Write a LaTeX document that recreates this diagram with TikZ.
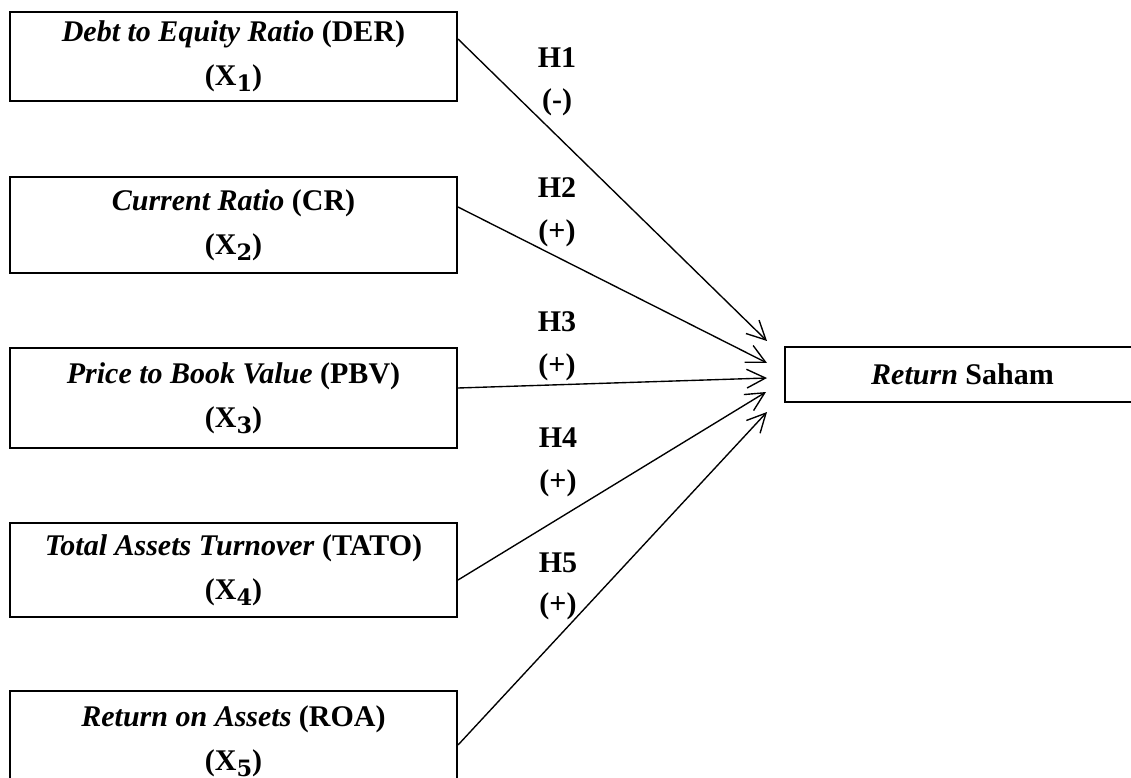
\documentclass[tikz,border=0pt]{standalone}
\usepackage{fontspec}
\setmainfont{Liberation Serif}
\newfontfamily\subfont{DejaVu Serif}
\usetikzlibrary{arrows.meta}
\newcommand{\xsub}[1]{X\raisebox{-0.45ex}{\fontsize{9}{9}\selectfont\subfont\bfseries #1}}
\begin{document}
\begin{tikzpicture}[x=0.4pt,y=-0.4pt,
  varbox/.style={draw,line width=0.8pt,inner sep=0pt,align=center,
    font=\fontsize{12}{17.6}\selectfont\bfseries,minimum width=178.8pt},
  hyp/.style={font=\fontsize{12}{14}\selectfont\bfseries,inner sep=0pt},
  link/.style={line width=0.55pt,-{Straight Barb[length=7.5pt,width=7.5pt,line width=0.55pt]}}]
\useasboundingbox (0,0) rectangle (1131,778);
\node[varbox,minimum height=35.6pt] (b1) at (233.5,56.5) {\textit{Debt to Equity Ratio} (DER)\\(\xsub{1})};
\node[varbox,minimum height=38.4pt] (b2) at (233.5,225) {\textit{Current Ratio} (CR)\\(\xsub{2})};
\node[varbox,minimum height=40pt] (b3) at (233.5,398) {\textit{Price to Book Value} (PBV)\\(\xsub{3})};
\node[varbox,minimum height=37.6pt] (b4) at (233.5,570) {\textit{Total Assets Turnover} (TATO)\\(\xsub{4})};
\node[varbox,minimum height=40pt] (b5) at (233.5,741) {\textit{Return on Assets} (ROA)\\(\xsub{5})};
\node[varbox,minimum width=142pt,minimum height=22pt] (y) at (962.5,374.5) {\textit{Return} Saham};
\coordinate (e1) at (767,341);
\coordinate (e2) at (767,363);
\coordinate (e3) at (767,378);
\coordinate (e4) at (766,392);
\coordinate (e5) at (767,412);
\draw[link] ([yshift=7pt]b1.east) -- (e1);
\draw[link] ([yshift=7.2pt]b2.east) -- (e2);
\draw[link] ([yshift=4pt]b3.east) -- (e3);
\draw[link] ([yshift=-4pt]b4.east) -- (e4);
\draw[link] ([yshift=-1.6pt]b5.east) -- (e5);
\node[hyp] (h1) at (557,58) {H1};
\node[hyp] (s1) at (557,102) {(-)};
\node[hyp] (h2) at (557,188) {H2};
\node[hyp] (s2) at (557,233) {(+)};
\node[hyp] (h3) at (557,322) {H3};
\node[hyp] (s3) at (557,367) {(+)};
\node[hyp] (h4) at (558,438) {H4};
\node[hyp] (s4) at (558,483) {(+)};
\node[hyp] (h5) at (558,563) {H5};
\node[hyp] (s5) at (558,606) {(+)};
\end{tikzpicture}
\end{document}
